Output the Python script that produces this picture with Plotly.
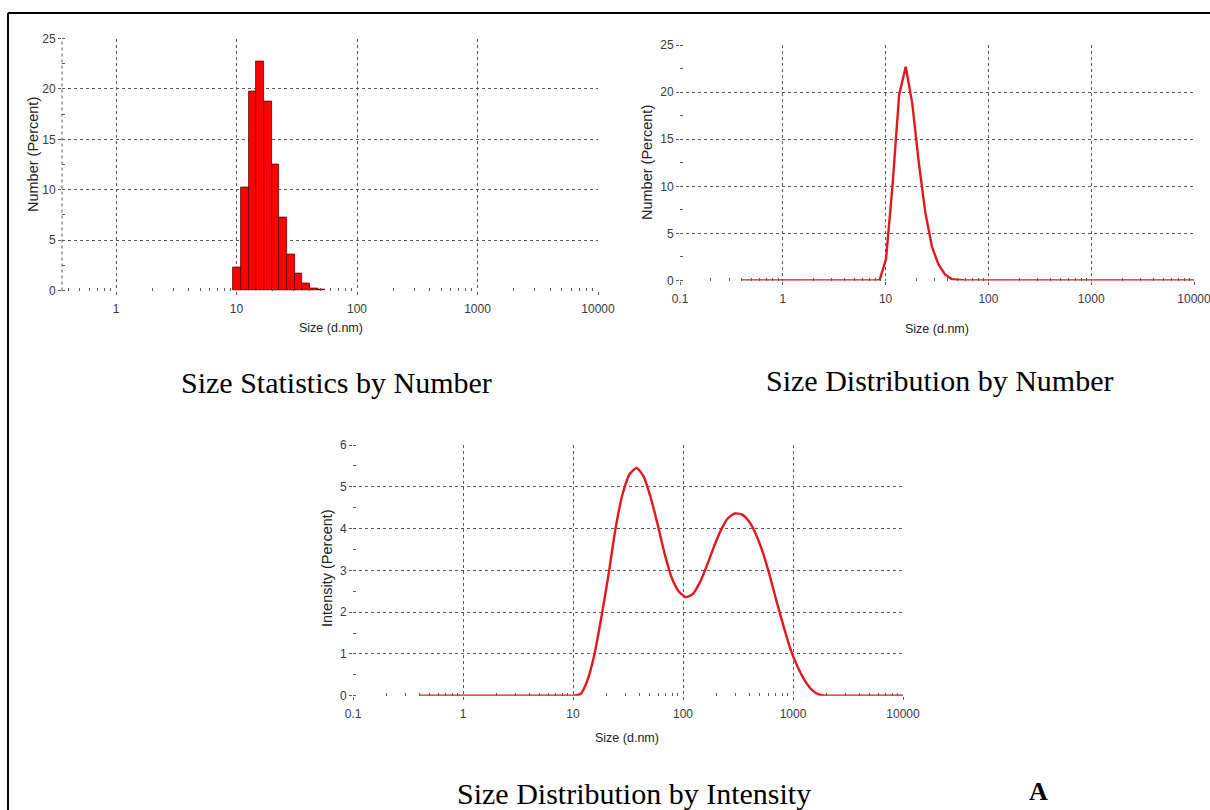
import plotly.graph_objects as go

# ---------------- data ----------------
sizes = [0.4, 0.4632, 0.5365, 0.6213, 0.7195, 0.8332, 0.9649, 1.117, 1.294, 1.499,
         1.736, 2.01, 2.328, 2.696, 3.122, 3.615, 4.187, 4.849, 5.615, 6.503,
         7.531, 8.721, 10.1, 11.7, 13.54, 15.69, 18.17, 21.04, 24.36, 28.21,
         32.67, 37.84, 43.82, 50.75, 58.77, 68.06, 78.82, 91.28, 105.7, 122.4,
         141.8, 164.2, 190.1, 220.2, 255.0, 295.3, 342.0, 396.1, 458.7, 531.2,
         615.1, 712.4, 825.0, 955.4, 1106, 1281, 1484, 1718, 1990, 2305,
         2669, 3091, 3580, 4145, 4801, 5560, 6439, 7456, 8635, 10000]

number_pct = [0, 0, 0, 0, 0, 0, 0, 0, 0, 0,
              0, 0, 0, 0, 0, 0, 0, 0, 0, 0,
              0, 0, 2.3, 10.2, 19.7, 22.7, 18.8, 12.5, 7.2, 3.6,
              1.7, 0.65, 0.15, 0.06, 0, 0, 0, 0, 0, 0,
              0, 0, 0, 0, 0, 0, 0, 0, 0, 0,
              0, 0, 0, 0, 0, 0, 0, 0, 0, 0,
              0, 0, 0, 0, 0, 0, 0, 0, 0, 0]

intensity_pct = [0, 0, 0, 0, 0, 0, 0, 0, 0, 0,
                 0, 0, 0, 0, 0, 0, 0, 0, 0, 0,
                 0, 0, 0, 0.04, 0.37, 1.0, 1.9, 2.9, 4.0, 4.82,
                 5.3, 5.45, 5.25, 4.75, 4.1, 3.4, 2.83, 2.5, 2.36, 2.43,
                 2.7, 3.1, 3.55, 3.95, 4.24, 4.36, 4.34, 4.18, 3.87, 3.43,
                 2.87, 2.24, 1.64, 1.09, 0.68, 0.36, 0.14, 0.03, 0, 0,
                 0, 0, 0, 0, 0, 0, 0, 0, 0, 0]

decade_vals = [0.1, 1, 10, 100, 1000, 10000]
decade_text = ["0.1", "1", "10", "100", "1000", "10000"]

captions = ["Size Statistics by Number", "Size Distribution by Number",
            "Size Distribution by Intensity"]
panel_label = "A"

# ---------------- layout helpers ----------------
W, H = 1210, 810
def px(x):
    return x / W
def py(y):
    return 1 - y / H

RED = "rgb(226,24,28)"
GRID = "#5a5a5a"
TICKFONT = dict(family="Liberation Sans, Arial", size=12, color="#3a3a3a")
XLABFONT = dict(family="Liberation Sans, Arial", size=12.5, color="#222")
YLABFONT = dict(family="Liberation Sans, Arial", size=14.5, color="#222")
CAPFONT = dict(family="Liberation Serif, Times New Roman", size=30, color="black")

minor_vals = [m * 10 ** k for k in range(-1, 4) for m in range(2, 10)]

fig = go.Figure()

# histogram (bars centred on size classes, log-symmetric widths)
bar_x, bar_y, bar_w, bar_off = [], [], [], []
for i, (s, v) in enumerate(zip(sizes, number_pct)):
    if v > 0:
        lo = (sizes[i - 1] * s) ** 0.5
        hi = (sizes[i + 1] * s) ** 0.5
        bar_x.append(s)
        bar_y.append(v)
        bar_w.append(hi - lo)
        bar_off.append(lo - s)
fig.add_trace(go.Bar(x=bar_x, y=bar_y, width=bar_w, offset=bar_off,
                     marker=dict(color="#ff0000", line=dict(color="#5a0000", width=0.8)),
                     xaxis="x", yaxis="y", showlegend=False))

fig.add_trace(go.Scatter(x=sizes, y=number_pct, mode="lines",
                         line=dict(color=RED, width=2.4), xaxis="x2", yaxis="y2",
                         showlegend=False))
fig.add_trace(go.Scatter(x=sizes, y=intensity_pct, mode="lines",
                         line=dict(color=RED, width=2.4, shape="spline", smoothing=0.6),
                         xaxis="x3", yaxis="y3", showlegend=False))

def xax(domain, rng):
    return dict(type="log", domain=domain, range=rng, tickmode="array",
                tickvals=decade_vals, ticktext=decade_text, tickfont=TICKFONT,
                showgrid=True, gridcolor=GRID, griddash="dot", gridwidth=1,
                zeroline=False, showline=False, ticks="outside", ticklen=3,
                tickcolor=GRID, automargin=False, ticklabeloverflow="allow",
                ticklabelstandoff=4,
                minor=dict(tickmode="array", tickvals=minor_vals, ticks="inside",
                           ticklen=3, tickcolor=GRID, showgrid=False),
                fixedrange=True)

def yax(domain, rng, dt, anchor):
    return dict(domain=domain, range=rng, dtick=dt, tick0=0, tickfont=TICKFONT,
                showgrid=True, gridcolor=GRID, griddash="dot", gridwidth=1,
                zeroline=False, showline=False, ticks="outside", ticklen=3,
                tickcolor=GRID, anchor=anchor, automargin=False,
                minor=dict(dtick=dt / 2, ticks="inside", ticklen=3,
                           tickcolor=GRID, showgrid=False),
                fixedrange=True)

# panel 1: 1 at 116px, 10000 at 598px
dec1 = (598 - 116) / 4
lo1 = -(116 - 62) / dec1
fig.update_layout(
    xaxis=xax([px(62), px(598)], [lo1, 4]) | dict(anchor="y"),
    yaxis=yax([py(290.5), py(38.5)], [0, 25], 5, "x"),
    xaxis2=xax([px(680), px(1194)], [-1, 4]) | dict(anchor="y2"),
    yaxis2=yax([py(280.5), py(45)], [0, 25], 5, "x2"),
    xaxis3=xax([px(353), px(903)], [-1, 4]) | dict(anchor="y3"),
    yaxis3=yax([py(695.7), py(445)], [0, 6], 1, "x3"),
)

annotations = []
def ann(text, x, y, font, angle=0):
    annotations.append(dict(text=text, x=px(x), y=py(y), xref="paper", yref="paper",
                            showarrow=False, xanchor="center", yanchor="middle",
                            textangle=angle, font=font))

ann("Number (Percent)", 33, 155, YLABFONT, -90)
ann("Size (d.nm)", 331, 328, XLABFONT)
ann("Number (Percent)", 647, 162, YLABFONT, -90)
ann("Size (d.nm)", 937, 329, XLABFONT)
ann("Intensity (Percent)", 327, 568, YLABFONT, -90)
ann("Size (d.nm)", 627, 738, XLABFONT)
ann(captions[0], 336, 383, CAPFONT)
ann(captions[1], 939, 381, CAPFONT)
ann(captions[2], 634, 793, CAPFONT)
ann("<b>" + panel_label + "</b>", 1038, 791,
    dict(family="Liberation Serif, Times New Roman", size=26, color="black"))

shapes = [
    # left edge dotted line for panel 1 (range starts below a decade)
    dict(type="line", xref="x domain", yref="y domain", x0=0, x1=0, y0=0, y1=1,
         line=dict(color=GRID, width=1, dash="dot")),
    # figure frame (top and left)
    dict(type="line", xref="paper", yref="paper", x0=px(8), x1=1, y0=py(13), y1=py(13),
         line=dict(color="black", width=2)),
    dict(type="line", xref="paper", yref="paper", x0=px(8), x1=px(8), y0=0, y1=py(13),
         line=dict(color="black", width=2)),
]

fig.update_layout(width=W, height=H, margin=dict(l=0, r=0, t=0, b=0),
                  paper_bgcolor="white", plot_bgcolor="white",
                  annotations=annotations, shapes=shapes, bargap=0)

fig.write_html("out.html", config={"displayModeBar": False},
               post_script="document.body.style.margin='0';document.body.style.overflow='hidden';")
